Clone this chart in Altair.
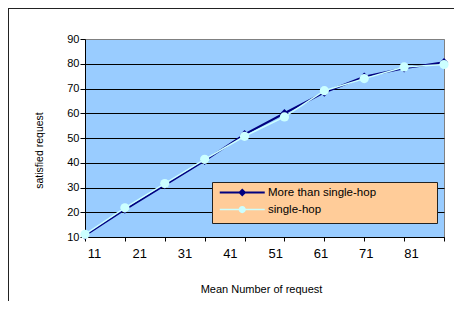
import altair as alt
import pandas as pd

# ---- data ----
points = [1, 2, 3, 4, 5, 6, 7, 8, 9, 10]
more_than_single_hop = [10.6, 21.1, 31.0, 40.8, 51.5, 60.0, 68.4, 74.8, 78.2, 80.6]
single_hop = [11.1, 21.8, 31.6, 41.4, 50.7, 58.5, 69.1, 74.0, 78.7, 79.7]
series_names = ["More than single-hop", "single-hop"]
series_colors = ["#000080", "#CCFFFF"]
x_tick_labels = [11, 21, 31, 41, 51, 61, 71, 81]
y_ticks = [10, 20, 30, 40, 50, 60, 70, 80, 90]

df = pd.DataFrame({
    "point": points + points,
    "value": more_than_single_hop + single_hop,
    "series": [series_names[0]] * len(points) + [series_names[1]] * len(points),
})
labels_df = pd.DataFrame({"label": x_tick_labels})

FONT = "Liberation Sans"
# legend symbols: a line segment with the series marker on it
DIAMOND_SYM = "M-4.5,-0.2H4.5V0.2H-4.5Z M0,-0.8L0.8,0L0,0.8L-0.8,0Z"
CIRCLE_SYM = "M-4.5,-0.15H4.5V0.15H-4.5Z M0.72,0A0.72,0.72,0,1,1,-0.72,0A0.72,0.72,0,1,1,0.72,0Z"

legend = alt.Legend(
    title=None, orient="none", legendX=151.5, legendY=147.8, padding=0,
    symbolSize=100, symbolStrokeWidth=0, symbolOpacity=1, rowPadding=4,
    labelOffset=20, labelFont=FONT, labelFontSize=11.5, labelColor="black",
    labelLimit=400,
)

color_scale = alt.Scale(domain=series_names, range=series_colors)
color_nolegend = alt.Color("series:N", scale=color_scale, legend=None)

x_enc = alt.X(
    "point:Q",
    scale=alt.Scale(domain=[1, 10], nice=False, zero=False),
    axis=alt.Axis(
        values=points, labels=False, tickSize=4, tickColor="black", domainColor="black",
        grid=False, orient="bottom", title="Mean Number of request",
        titleX=176, titleY=55, titleBaseline="alphabetic", titleAlign="center",
        titleFont=FONT, titleFontSize=11, titleFontWeight="normal", titleColor="black",
    ),
)
y_enc = alt.Y(
    "value:Q",
    scale=alt.Scale(domain=[10, 90], nice=False, zero=False),
    axis=alt.Axis(
        values=y_ticks, tickSize=5, tickColor="black", domainColor="black",
        labelPadding=1, labelFont=FONT, labelFontSize=11, labelColor="black",
        grid=True, gridWidth=1,
        gridColor={"condition": {"test": "datum.value === 90", "value": "#808080"}, "value": "#000000"},
        title="satisfied request", titleX=-46, titleY=111, titleAngle=270,
        titleAlign="center", titleBaseline="middle",
        titleFont=FONT, titleFontSize=10.5, titleFontWeight="normal", titleColor="black",
    ),
)

base = alt.Chart(df)
dark = alt.datum.series == series_names[0]
light = alt.datum.series == series_names[1]

# legend-only layer (no rows drawn; entries come from the explicit scale domains)
legend_layer = base.transform_filter(alt.datum.point < 0).mark_point(filled=True).encode(
    x=x_enc, y=y_enc,
    color=alt.Color("series:N", scale=color_scale, legend=legend),
    shape=alt.Shape("series:N", scale=alt.Scale(domain=series_names, range=[DIAMOND_SYM, CIRCLE_SYM]), legend=legend),
)

dark_line = base.transform_filter(dark).mark_line(strokeWidth=2).encode(x=x_enc, y=y_enc, color=color_nolegend)
dark_pts = base.transform_filter(dark).mark_point(shape="diamond", filled=True, size=70, opacity=1).encode(x=x_enc, y=y_enc, color=color_nolegend)
light_line = base.transform_filter(light).mark_line(strokeWidth=1.5).encode(x=x_enc, y=y_enc, color=color_nolegend)
light_pts = base.transform_filter(light).mark_point(shape="circle", filled=True, size=85, opacity=1).encode(x=x_enc, y=y_enc, color=color_nolegend)

data_layer = alt.layer(legend_layer, dark_line, dark_pts, light_line, light_pts)

label_layer = alt.Chart(labels_df).mark_point(opacity=0).encode(
    x=alt.X(
        "label:Q",
        scale=alt.Scale(domain=[9.01, 88.28], nice=False, zero=False),
        axis=alt.Axis(
            values=x_tick_labels, ticks=False, domain=False, grid=False, orient="bottom",
            labelPadding=10, labelFont=FONT, labelFontSize=13, labelColor="black",
            labelFlush=False, labelOverlap=False, title=None,
        ),
    ),
    y=alt.value(0),
)

# outer chart frame: only its top and left edges are inside the window
one = alt.Data(values=[{}])
frame_top = alt.Chart(one).mark_rule(stroke="#222222", strokeWidth=1).encode(
    x=alt.value(-77), x2=alt.value(1000), y=alt.value(-30.5)
)
frame_left = alt.Chart(one).mark_rule(stroke="#222222", strokeWidth=1).encode(
    x=alt.value(-76.5), y=alt.value(-31), y2=alt.value(1000)
)
legend_box = alt.Chart(one).mark_rect(fill="#FFCC99", stroke="#222222", strokeWidth=1).encode(
    x=alt.value(127.5), x2=alt.value(352.5), y=alt.value(143.5), y2=alt.value(184.5)
)

chart = alt.layer(frame_top, frame_left, legend_box, data_layer, label_layer).resolve_scale(
    x="independent"
).properties(
    width=359, height=198,
    padding={"left": 77, "top": 31, "right": 10, "bottom": 64},
    autosize="none",
    background="white",
).configure_view(
    fill="#99CCFF", stroke="#808080", strokeWidth=1
)

chart.save("out.html", embed_options={"renderer": "svg", "actions": False})
